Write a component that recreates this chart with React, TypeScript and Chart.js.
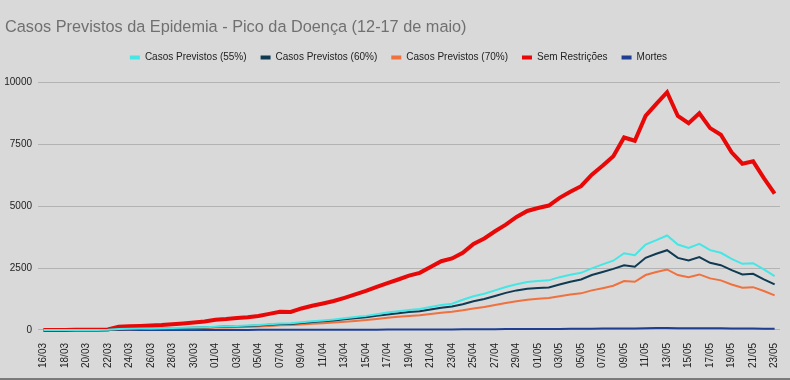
import React, { useEffect, useRef } from "react";
import { Chart, registerables } from "chart.js";

Chart.register(...registerables);

const titleText = "Casos Previstos da Epidemia - Pico da Doença (12-17 de maio)";

const dates = [
  "16/03", "17/03", "18/03", "19/03", "20/03", "21/03", "22/03", "23/03", "24/03", "25/03",
  "26/03", "27/03", "28/03", "29/03", "30/03", "31/03", "01/04", "02/04", "03/04", "04/04",
  "05/04", "06/04", "07/04", "08/04", "09/04", "10/04", "11/04", "12/04", "13/04", "14/04",
  "15/04", "16/04", "17/04", "18/04", "19/04", "20/04", "21/04", "22/04", "23/04", "24/04",
  "25/04", "26/04", "27/04", "28/04", "29/04", "30/04", "01/05", "02/05", "03/05", "04/05",
  "05/05", "06/05", "07/05", "08/05", "09/05", "10/05", "11/05", "12/05", "13/05", "14/05",
  "15/05", "16/05", "17/05", "18/05", "19/05", "20/05", "21/05", "22/05", "23/05",
];

const casos55 = [
  0, 1, 1, 2, 3, 4, 6, 35, 45, 55,
  62, 70, 80, 90, 100, 115, 135, 150, 165, 180,
  200, 235, 265, 270, 310, 350, 385, 420, 470, 520,
  570, 640, 710, 760, 810, 850, 930, 1010, 1060, 1220,
  1360, 1465, 1600, 1740, 1850, 1940, 1975, 2005, 2135, 2230,
  2310, 2490, 2650, 2800, 3100, 3025, 3455, 3630, 3820, 3455,
  3320, 3480, 3225, 3120, 2875, 2675, 2700, 2445, 2180,
];

const casos60 = [
  0, 1, 1, 2, 2, 3, 5, 30, 38, 46,
  55, 62, 72, 82, 92, 105, 125, 138, 150, 165,
  180, 210, 240, 245, 285, 320, 350, 385, 430, 470,
  510, 575, 630, 680, 725, 760, 830, 900, 950, 1040,
  1160, 1250, 1370, 1500, 1600, 1665, 1700, 1720, 1840, 1950,
  2040, 2220, 2340, 2470, 2615, 2555, 2915, 3080, 3225, 2915,
  2810, 2945, 2715, 2620, 2420, 2245, 2270, 2045, 1840,
];

const casos70 = [
  0, 1, 1, 1, 2, 3, 4, 25, 32, 38,
  44, 50, 57, 65, 72, 82, 95, 105, 115, 125,
  140, 165, 195, 200, 225, 250, 275, 300, 330, 365,
  400, 445, 490, 530, 565, 595, 650, 700, 740, 800,
  870, 930, 1010, 1090, 1160, 1225, 1265, 1290, 1360, 1430,
  1480, 1600, 1690, 1790, 1980, 1950, 2220, 2340, 2445, 2220,
  2135, 2245, 2085, 2005, 1840, 1705, 1730, 1575, 1400,
];

const semRestricoes = [
  0, 2, 4, 6, 8, 12, 20, 130, 150, 165,
  185, 205, 235, 265, 300, 340, 410, 440, 480, 510,
  565, 650, 740, 730, 870, 980, 1070, 1170, 1300, 1440,
  1580, 1740, 1890, 2040, 2200, 2310, 2550, 2780, 2890, 3120,
  3480, 3700, 3990, 4260, 4570, 4810, 4930, 5030, 5340, 5590,
  5810, 6280, 6640, 7020, 7780, 7650, 8650, 9140, 9610, 8650,
  8360, 8760, 8160, 7890, 7180, 6720, 6815, 6140, 5510,
];

const mortes = [
  0, 0, 0, 0, 0, 0, 0, 1, 1, 1,
  1, 2, 2, 2, 2, 3, 3, 4, 4, 4,
  5, 5, 6, 6, 7, 8, 9, 10, 11, 12,
  13, 14, 15, 17, 18, 19, 21, 23, 24, 26,
  29, 31, 33, 35, 38, 40, 41, 42, 44, 46,
  48, 52, 55, 58, 64, 63, 71, 75, 79, 71,
  69, 72, 67, 65, 59, 55, 56, 50, 45,
];

const yTicks = [0, 2500, 5000, 7500, 10000];

const FONT = "Arial, 'Liberation Sans', Helvetica, sans-serif";

const legendGap = {
  id: "legendGap",
  beforeInit(chart: any) {
    const legend = chart.legend;
    if (!legend) return;
    const origFit = legend.fit;
    legend.fit = function fit(this: any) {
      origFit.call(this);
      this.height += 10;
    };
  },
  afterLayout(chart: any) {
    const legend = chart.legend;
    if (!legend) return;
    legend.left += 6;
    legend.right += 6;
  },
};

export default function App() {
  const ref = useRef<HTMLCanvasElement>(null);

  useEffect(() => {
    document.body.style.margin = "0";
    const ds = (label: string, data: number[], color: string, width: number) => ({
      label,
      data,
      borderColor: color,
      backgroundColor: color,
      borderWidth: width,
      pointRadius: 0,
      tension: 0,
      clip: 6,
    });
    const chart = new Chart(ref.current!, {
      type: "line",
      data: {
        labels: dates,
        datasets: [
          ds("Casos Previstos (55%)", casos55, "#44e6e6", 2),
          ds("Casos Previstos (60%)", casos60, "#0f3a52", 2),
          ds("Casos Previstos (70%)", casos70, "#f0703e", 2),
          ds("Sem Restrições", semRestricoes, "#e80808", 4),
          ds("Mortes", mortes, "#1f3f92", 2),
        ],
      },
      plugins: [legendGap],
      options: {
        responsive: false,
        animation: false,
        layout: { padding: { left: 5, right: 10, top: 0, bottom: 5 } },
        plugins: {
          title: {
            display: true,
            text: titleText,
            align: "start",
            color: "#707070",
            font: { family: FONT, size: 16.3, weight: "normal" },
            padding: { top: 18, bottom: 1 },
          },
          legend: {
            labels: {
              boxWidth: 10,
              boxHeight: 4,
              padding: 14,
              color: "#222222",
              font: { family: FONT, size: 10 },
              generateLabels: (c: any) =>
                Chart.defaults.plugins.legend.labels
                  .generateLabels(c)
                  .map((l: any) => ({ ...l, lineWidth: 0, fillStyle: l.strokeStyle })),
            },
          },
          tooltip: { enabled: false },
        },
        scales: {
          x: {
            offset: true,
            grid: { display: false },
            border: { display: false },
            afterFit: (scale: any) => {
              scale.paddingLeft = 0;
              scale.paddingRight = 0;
            },
            ticks: {
              autoSkip: false,
              maxRotation: 90,
              minRotation: 90,
              padding: 5,
              color: "#222222",
              font: { family: FONT, size: 10 },
              callback: (_v: any, i: number) => (i % 2 === 0 ? dates[i] : ""),
            },
          },
          y: {
            min: yTicks[0],
            max: yTicks[yTicks.length - 1],
            afterBuildTicks: (axis: any) => {
              axis.ticks = yTicks.map((v) => ({ value: v }));
            },
            afterFit: (scale: any) => {
              scale.width = 33;
            },
            grid: { color: "#b3b3b3", lineWidth: 1, drawTicks: false },
            border: { display: false },
            ticks: {
              padding: 6,
              color: "#222222",
              font: { family: FONT, size: 10 },
              callback: (v: any) => String(v),
            },
          },
        },
      },
    } as any);
    return () => chart.destroy();
  }, []);

  return (
    <div
      style={{
        width: 790,
        height: 380,
        background: "#d9d9d9",
        boxSizing: "border-box",
        borderBottom: "2px solid #7a7a7a",
      }}
    >
      <canvas ref={ref} width={790} height={378} style={{ display: "block" }} />
    </div>
  );
}
